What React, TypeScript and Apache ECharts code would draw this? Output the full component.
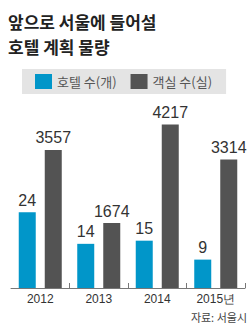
import React, { useEffect, useRef } from "react";
import * as echarts from "echarts";

const categories = ["2012", "2013", "2014", "2015년"];
const hotels = [24, 14, 15, 9];
const rooms = [3557, 1674, 4217, 3314];
const seriesNames = ["호텔 수(개)", "객실 수(실)"];
const titleText = "앞으로 서울에 들어설\n호텔 계획 물량";
const sourceText = "자료: 서울시";

const BLUE = "#0196c9";
const DARK = "#535353";
const KR = "'Noto Sans CJK KR', sans-serif";
const NUM = "'Liberation Sans Narrow', 'Liberation Sans', Arial, sans-serif";

export default function App() {
  const ref = useRef<HTMLDivElement>(null);
  useEffect(() => {
    document.body.style.margin = "0";
    document.body.style.overflow = "hidden";
    if (!ref.current) return;
    const chart = echarts.init(ref.current, null, { renderer: "svg" });
    chart.setOption({
      animation: false,
      backgroundColor: "#ffffff",
      title: {
        text: titleText,
        left: 8,
        top: 9,
        padding: 0,
        textStyle: {
          fontFamily: KR,
          fontSize: 17,
          fontWeight: "bold",
          color: "#222222",
          lineHeight: 25,
        },
      },
      legend: {
        data: seriesNames,
        left: 22,
        top: 69,
        padding: [5, 14, 5, 13],
        backgroundColor: "#e4e4e4",
        icon: "rect",
        itemWidth: 17,
        itemHeight: 15,
        itemGap: 14,
        textStyle: { fontFamily: KR, fontSize: 13, color: "#555555" },
      },
      grid: { left: 11, right: 5, top: 94, bottom: 41, containLabel: false },
      xAxis: {
        type: "category",
        data: categories,
        axisLine: { show: true, lineStyle: { color: "#777777", width: 1 } },
        axisTick: {
          show: true,
          inside: true,
          length: 5,
          interval: (i: number) => i !== 0,
          lineStyle: { color: "#777777" },
        },
        axisLabel: {
          margin: 5,
          fontFamily: "'Liberation Sans', Arial, sans-serif",
          fontSize: 12,
          color: "#333333",
        },
      },
      yAxis: [
        { type: "value", min: 0, max: 61.5, show: false },
        { type: "value", min: 0, max: 5000, show: false },
      ],
      series: [
        {
          name: seriesNames[0],
          type: "bar",
          yAxisIndex: 0,
          data: hotels,
          barWidth: 17,
          barGap: "53%",
          itemStyle: { color: BLUE },
          label: {
            show: true,
            position: "top",
            distance: 4,
            fontFamily: NUM,
            fontSize: 16,
            color: "#333333",
          },
        },
        {
          name: seriesNames[1],
          type: "bar",
          yAxisIndex: 1,
          data: rooms,
          barWidth: 17,
          barGap: "53%",
          itemStyle: { color: DARK },
          label: {
            show: true,
            position: "top",
            distance: 4,
            fontFamily: NUM,
            fontSize: 16,
            color: "#333333",
          },
        },
      ],
      graphic: [
        {
          type: "text",
          right: 3,
          top: 311,
          style: { text: sourceText, fontFamily: KR, fontSize: 11, fill: "#444444" },
        },
      ],
    });
    return () => chart.dispose();
  }, []);
  return <div ref={ref} style={{ width: 250, height: 329 }} />;
}
